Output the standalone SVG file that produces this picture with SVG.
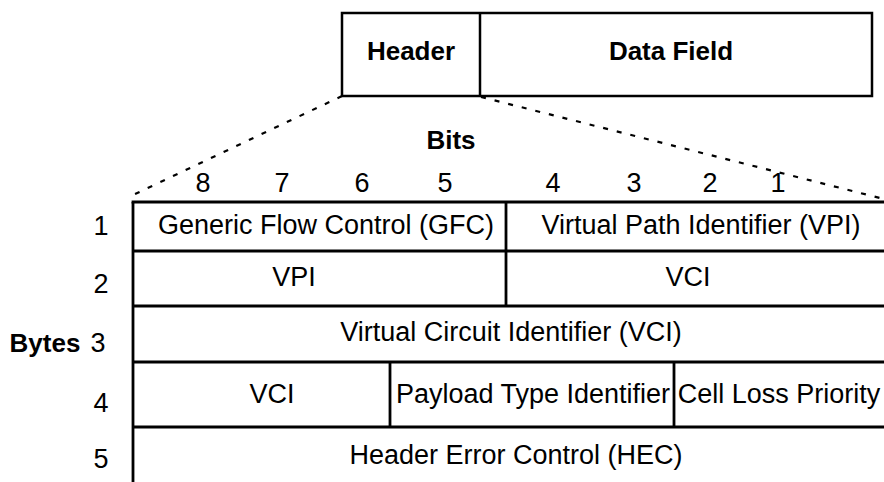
<svg xmlns="http://www.w3.org/2000/svg" width="884" height="482" viewBox="0 0 884 482">
<style>
  text { font-family: "Liberation Sans", Arial, sans-serif; fill: #000; }
  .r { font-size: 27px; text-anchor: middle; }
  .b { font-size: 26px; font-weight: bold; text-anchor: middle; }
  .box { fill: #fff; stroke: #000; stroke-width: 2.5; }
  .ln { stroke: #000; stroke-width: 2.8; fill: none; }
  .dot { stroke: #000; stroke-width: 2.2; stroke-dasharray: 5 9; fill: none; }
</style>
<rect width="884" height="482" fill="#fff"/>
<g id="connectors">
  <line class="dot" x1="342" y1="96" x2="133" y2="195"/>
  <line class="dot" x1="481" y1="97" x2="880" y2="198"/>
</g>
<g id="cell">
  <rect class="box" x="342" y="13" width="530" height="83"/>
  <line class="ln" x1="480" y1="13" x2="480" y2="96" style="stroke-width:2.5"/>
  <text class="b" x="411" y="60">Header</text>
  <text class="b" x="671" y="60">Data Field</text>
</g>
<g id="bits">
  <text class="b" x="451" y="149">Bits</text>
  <text class="r" x="203" y="192">8</text>
  <text class="r" x="282" y="192">7</text>
  <text class="r" x="362" y="192">6</text>
  <text class="r" x="445" y="192">5</text>
  <text class="r" x="553" y="192">4</text>
  <text class="r" x="634" y="192">3</text>
  <text class="r" x="710" y="192">2</text>
  <text class="r" x="778" y="192">1</text>
</g>
<g id="bytes">
  <text class="b" x="45" y="352">Bytes</text>
  <text class="r" x="101" y="235">1</text>
  <text class="r" x="101" y="293">2</text>
  <text class="r" x="98" y="352">3</text>
  <text class="r" x="101" y="412">4</text>
  <text class="r" x="101" y="468">5</text>
</g>
<g id="table">
  <line class="ln" x1="133" y1="202" x2="133" y2="482"/>
  <line class="ln" x1="131.6" y1="202" x2="884" y2="202"/>
  <line class="ln" x1="133" y1="251" x2="884" y2="251"/>
  <line class="ln" x1="133" y1="306" x2="884" y2="306"/>
  <line class="ln" x1="133" y1="362" x2="884" y2="362"/>
  <line class="ln" x1="133" y1="427" x2="884" y2="427"/>
  <line class="ln" x1="506" y1="202" x2="506" y2="306"/>
  <line class="ln" x1="390" y1="362" x2="390" y2="427"/>
  <line class="ln" x1="674" y1="362" x2="674" y2="427"/>
</g>
<g id="row1">
  <text class="r" x="326" y="234">Generic Flow Control (GFC)</text>
  <text class="r" x="701" y="234">Virtual Path Identifier (VPI)</text>
</g>
<g id="row2">
  <text class="r" x="294" y="286">VPI</text>
  <text class="r" x="688" y="286">VCI</text>
</g>
<g id="row3">
  <text class="r" x="511" y="341">Virtual Circuit Identifier (VCI)</text>
</g>
<g id="row4">
  <text class="r" x="272" y="403">VCI</text>
  <text class="r" x="533" y="403">Payload Type Identifier</text>
  <text class="r" x="779" y="403">Cell Loss Priority</text>
</g>
<g id="row5">
  <text class="r" x="516" y="464">Header Error Control (HEC)</text>
</g>
</svg>
